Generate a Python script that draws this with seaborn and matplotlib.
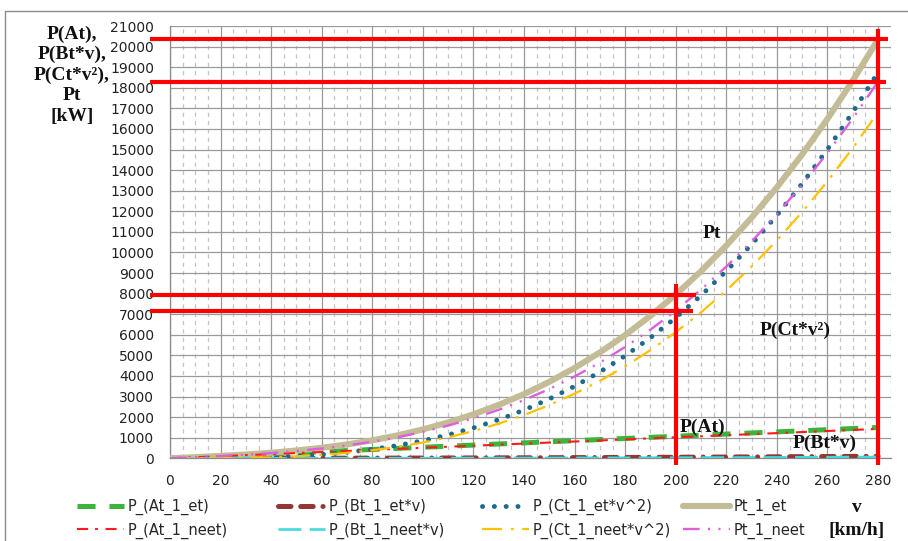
import matplotlib
matplotlib.use("Agg")
import matplotlib.pyplot as plt
import numpy as np
import pandas as pd
import seaborn as sns

# speed in km/h
speed = [0, 10, 20, 30, 40, 50, 60, 70, 80, 90, 100, 110, 120, 130, 140,
         150, 160, 170, 180, 190, 200, 210, 220, 230, 240, 250, 260, 270, 280]

# power components, kW
p_at_et = [0, 54, 107, 161, 214, 268, 321, 375, 428, 482, 535, 589, 642, 696, 749,
           803, 856, 910, 963, 1017, 1070, 1124, 1177, 1231, 1284, 1338, 1391, 1445, 1498]
p_bt_et = [0, 0, 1, 1, 2, 3, 5, 6, 8, 10, 13, 15, 18, 22, 25,
           29, 33, 37, 41, 46, 51, 56, 62, 67, 73, 80, 86, 93, 100]
p_ct_et = [0, 1, 7, 23, 55, 107, 185, 293, 437, 623, 854, 1137, 1476, 1877, 2344,
           2883, 3499, 4196, 4981, 5859, 6833, 7910, 9095, 10392, 11808, 13346, 15012, 16812, 18750]
pt_et = [0, 55, 115, 185, 271, 378, 511, 674, 873, 1115, 1402, 1741, 2136, 2595, 3118,
         3715, 4388, 5143, 5985, 6922, 7954, 9090, 10334, 11690, 13165, 14764, 16489, 18350, 20348]

p_at_neet = [0, 51, 102, 153, 204, 255, 306, 357, 408, 459, 510, 561, 612, 663, 714,
             765, 816, 867, 918, 969, 1020, 1071, 1122, 1173, 1224, 1275, 1326, 1377, 1428]
p_bt_neet = [0, 0, 0, 1, 1, 2, 3, 4, 5, 6, 8, 9, 11, 13, 15,
             17, 20, 22, 25, 28, 31, 34, 37, 40, 44, 48, 52, 56, 60]
p_ct_neet = [0, 1, 6, 21, 49, 96, 165, 263, 392, 558, 766, 1019, 1323, 1682, 2101,
             2584, 3137, 3762, 4466, 5252, 6126, 7092, 8154, 9317, 10586, 11965, 13459, 15073, 16810]
pt_neet = [0, 52, 108, 175, 254, 353, 474, 624, 805, 1023, 1284, 1589, 1946, 2358, 2830,
           3366, 3973, 4651, 5409, 6249, 7177, 8197, 9313, 10530, 11854, 13288, 14837, 16506, 18298]

series_labels = ["P_(At_1_et)", "P_(Bt_1_et*v)", "P_(Ct_1_et*v^2)", "Pt_1_et",
                 "P_(At_1_neet)", "P_(Bt_1_neet*v)", "P_(Ct_1_neet*v^2)", "Pt_1_neet"]

# speeds marked with red guide lines
marked_speeds = [200, 280]

df = pd.DataFrame({
    "v": speed,
    series_labels[0]: p_at_et,
    series_labels[1]: p_bt_et,
    series_labels[2]: p_ct_et,
    series_labels[3]: pt_et,
    series_labels[4]: p_at_neet,
    series_labels[5]: p_bt_neet,
    series_labels[6]: p_ct_neet,
    series_labels[7]: pt_neet,
})

sns.set_style("white")
plt.rcParams["lines.scale_dashes"] = False
plt.rcParams["font.family"] = ["DejaVu Sans"]

# (colour, linewidth pt, dash pattern or None, capstyle)
styles = {
    "P_(At_1_et)": ("#3cb43c", 3.6, (13, 10), "butt"),
    "P_(Bt_1_et*v)": ("#943634", 3.6, (9, 7, 9, 7, 0.1, 7), "round"),
    "P_(Ct_1_et*v^2)": ("#1b6b8c", 3.5, (0.1, 8.4), "round"),
    "Pt_1_et": ("#c4bc96", 4.4, None, "butt"),
    "P_(At_1_neet)": ("#ff1a1a", 1.5, (8, 5, 2, 5.5), "butt"),
    "P_(Bt_1_neet*v)": ("#3fd9de", 1.9, (16.5, 6), "butt"),
    "P_(Ct_1_neet*v^2)": ("#ffc000", 1.6, (14.4, 6.5, 2, 6), "butt"),
    "Pt_1_neet": ("#dc60dc", 1.7, (12, 6, 1.5, 6, 1.5, 6), "butt"),
}

fig = plt.figure(figsize=(9.08, 5.41), dpi=100)
ax = fig.add_axes([170 / 908, 82.7 / 541, (890.7 - 170) / 908, (458.3 - 26) / 541])

handles = {}
for name in series_labels:
    color, lw, dashes, cap = styles[name]
    sns.lineplot(data=df, x="v", y=name, ax=ax, color=color, linewidth=lw,
                 errorbar=None, label=name, legend=False, zorder=3)
    line = ax.lines[-1]
    if dashes is not None:
        line.set_dashes(dashes)
    line.set_dash_capstyle(cap)
    line.set_solid_capstyle("round")
    handles[name] = line

ax.set_xlim(0, 285)
ax.set_ylim(0, 21000)
ax.set_xticks(np.arange(0, 281, 20))
ax.set_xticks(np.arange(0, 286, 5), minor=True)
ax.set_yticks(np.arange(0, 21001, 1000))
ax.set_xlabel("")
ax.set_ylabel("")

ax.grid(which="major", axis="both", color="#9a9a9a", lw=0.9, zorder=0)
ax.grid(which="minor", axis="x", color="#c4c4c4", lw=0.9, linestyle=(0, (3, 3)), zorder=0)
ax.set_axisbelow(True)

for s in ["top", "right"]:
    ax.spines[s].set_visible(False)
for s in ["left", "bottom"]:
    ax.spines[s].set_color("#8a8a8a")
    ax.spines[s].set_linewidth(0.9)

ax.tick_params(axis="both", which="major", direction="out", length=4.5, width=0.9,
               color="#8a8a8a", labelsize=10, labelcolor="#222222", pad=7)
ax.tick_params(axis="x", which="minor", direction="out", length=3, width=0.8, color="#c4c4c4")
ax.tick_params(axis="y", which="minor", length=0)

# red guide lines at the marked speeds
v_arr = np.array(speed)
for sp in marked_speeds:
    i = int(np.where(v_arr == sp)[0][0])
    top = pt_et[i]
    x_end = sp + 4 if sp == marked_speeds[-1] else sp + 8
    for level, xe in ((pt_et[i], x_end), (pt_neet[i], x_end - 1)):
        ax.plot([-8, xe], [level, level], color="#ff0000", lw=3.0, clip_on=False,
                zorder=10, solid_capstyle="butt")
    ax.plot([sp, sp], [-340, top + 500], color="#ff0000", lw=3.0, clip_on=False,
            zorder=10, solid_capstyle="butt")

serif_bold = dict(family=["Liberation Serif", "DejaVu Serif"], weight="bold", size=14,
                  color="#111111")
ax.text(214.3, 10926, "Pt", ha="center", va="center", zorder=11, **serif_bold)
ax.text(247.2, 6232, "P(Ct*v²)", ha="center", va="center", zorder=11, **serif_bold)
ax.text(210.4, 1518, "P(At)", ha="center", va="center", zorder=11, **serif_bold)
ax.text(259.0, 742, "P(Bt*v)", ha="center", va="center", zorder=11, **serif_bold)

# axis titles
fig.text(72 / 908, 1 - 75 / 541, "P(At),\nP(Bt*v),\nP(Ct*v²),\nPt\n[kW]",
         ha="center", va="center", linespacing=1.25, **serif_bold)
fig.text(857 / 908, 1 - 507 / 541, "v", ha="center", va="center", **serif_bold)
fig.text(857 / 908, 1 - 530 / 541, "[km/h]", ha="center", va="center", **serif_bold)

# legend: four columns of two entries
col_x = [77, 278, 482, 683]
for c in range(4):
    names = [series_labels[c], series_labels[c + 4]]
    fig.legend([handles[n] for n in names], names, loc="upper left",
               bbox_to_anchor=(col_x[c] / 908, 1 - 499 / 541), frameon=False,
               borderpad=0, borderaxespad=0, handlelength=3.2, handletextpad=0.25,
               labelspacing=0.5, prop={"family": "DejaVu Sans", "size": 10.5})

# chart frame
frame_kw = dict(color="#8c8c8c", lw=1.0, transform=fig.transFigure, clip_on=False)
fig.add_artist(plt.Line2D([5 / 908, 1.0], [1 - 11 / 541, 1 - 11 / 541], **frame_kw))
fig.add_artist(plt.Line2D([5 / 908, 5 / 908], [0, 1 - 11 / 541], **frame_kw))

fig.savefig("out.png", dpi=100, facecolor="white")
